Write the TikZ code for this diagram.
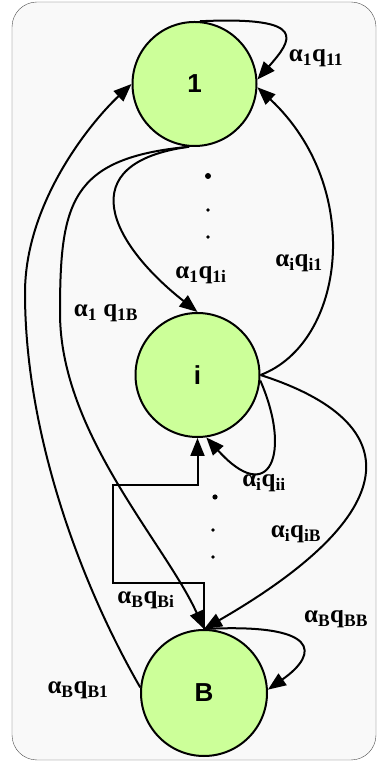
\documentclass[tikz,border=0pt]{standalone}
\usepackage{fontspec}
\setmainfont{Liberation Serif}
\newfontfamily\statefont{Liberation Sans}
\usetikzlibrary{arrows.meta}
\definecolor{statefill}{HTML}{CCFF99}
\definecolor{panelfill}{HTML}{F9F9F9}
\newcommand{\rate}[2]{α\textsubscript{#1}q\textsubscript{#2}}

\begin{document}
\begin{tikzpicture}[x=1pt, y=1pt, >={Triangle[length=18pt,width=14pt]},
    state/.style={circle, draw, line width=2pt, fill=statefill, minimum size=124pt,
        inner sep=0pt, font=\statefont\bfseries\fontsize{26}{28}\selectfont},
    edge/.style={line width=2pt, ->},
    rate/.style={font=\bfseries\fontsize{25}{27}\selectfont, inner sep=0pt}]
    \useasboundingbox (0,0) rectangle (377,763);
    % panel
    \draw[gray!60!black, fill=panelfill, rounded corners=25pt] (12,3) rectangle (376,761);
    % states
    \node[state] (s1) at (194.5,679) {1};
    \node[state] (si) at (197.5,388) {i};
    \node[state, minimum size=126pt] (sB) at (204,70) {B};
    % transitions
    \draw[edge] (s1.85) .. controls +(110,5) and +(35,40) .. (s1.4);
    \draw[edge] (s1.265) .. controls (70,600) and (110,520) .. (si.north);
    \draw[edge] (s1.265) .. controls (70,605) and (60,560) .. (60,450)
        .. controls (60,330) and (165,220) .. (sB.north);
    \draw[edge] (sB.175) .. controls (80,180) and (25,330) .. (25,470)
        .. controls (25,560) and (90,640) .. (s1.west);
    \draw[edge] (si.east) .. controls (345,420) and (365,575) .. (s1.-3);
    \draw[edge] (si.-5) .. controls (292,310) and (270,255) .. (si.-82);
    \draw[edge] (si.east) .. controls (410,340) and (405,250) .. (sB.north);
    \draw[edge] (sB.north) |- (113,180) |- (197.5,278) -- (si.south);
    \draw[edge] (sB.north) .. controls (320,140) and (320,110) .. (sB.3);
    % dots
    \fill (208,587) circle (3);
    \fill (208,553) circle (1.8);
    \fill (208,526) circle (1.8);
    \fill (215,266) circle (2.6);
    \fill (213,233) circle (1.8);
    \fill (213,206) circle (1.8);
    % rates
    \node[rate] (l11) at (316,705) {\rate{1}{11}};
    \node[rate] (li1) at (299,500) {\rate{i}{i1}};
    \node[rate] (l1i) at (201,488) {\rate{1}{1i}};
    \node[rate] (l1B) at (106,450) {α\textsubscript{1} q\textsubscript{1B}};
    \node[rate] (lii) at (264,280) {\rate{i}{ii}};
    \node[rate] (liB) at (296,229) {\rate{i}{iB}};
    \node[rate] (lBi) at (146,163) {\rate{B}{Bi}};
    \node[rate] (lBB) at (336,144) {\rate{B}{BB}};
    \node[rate] (lB1) at (78,73) {\rate{B}{B1}};
\end{tikzpicture}
\end{document}
